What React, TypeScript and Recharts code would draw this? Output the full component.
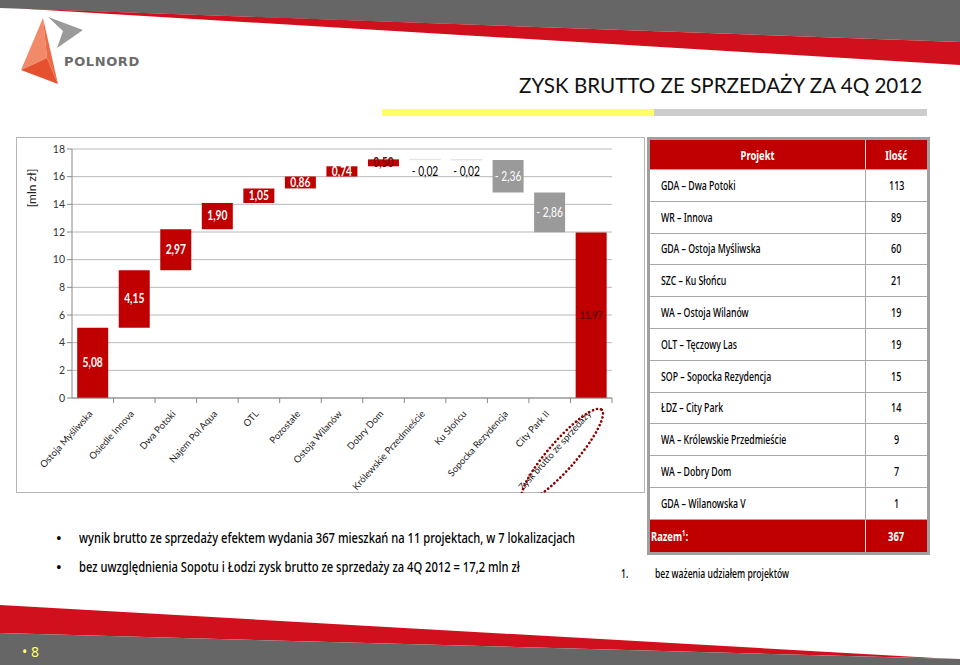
import React from "react";
import {
  BarChart,
  Bar,
  XAxis,
  YAxis,
  CartesianGrid,
  Cell,
  LabelList,
  Label,
} from "recharts";

// waterfall: contributions of projects to the gross profit, mln zł
const categories = [
  "Ostoja Myśliwska",
  "Osiedle Innova",
  "Dwa Potoki",
  "Najem Pol Aqua",
  "OTL",
  "Pozostałe",
  "Ostoja Wilanów",
  "Dobry Dom",
  "Królewskie Przedmieście",
  "Ku Słońcu",
  "Sopocka Rezydencja",
  "City Park II",
  "Zysk brutto ze sprzedaży",
];
const changes = [5.08, 4.15, 2.97, 1.9, 1.05, 0.86, 0.74, 0.5, -0.02, -0.02, -2.36, -2.86];
const totalValue = 11.97;
const yTicks = [0, 2, 4, 6, 8, 10, 12, 14, 16, 18];

// table next to the chart
const tableProjects = [
  "GDA – Dwa Potoki",
  "WR – Innova",
  "GDA – Ostoja Myśliwska",
  "SZC – Ku Słońcu",
  "WA – Ostoja Wilanów",
  "OLT – Tęczowy Las",
  "SOP – Sopocka Rezydencja",
  "ŁDZ – City Park",
  "WA – Królewskie Przedmieście",
  "WA – Dobry Dom",
  "GDA – Wilanowska V",
];
const tableCounts = [113, 89, 60, 21, 19, 19, 15, 14, 9, 7, 1];
const tableTotal = 367;

const bullets = [
  "wynik brutto ze sprzedaży efektem wydania 367 mieszkań na 11 projektach, w 7 lokalizacjach",
  "bez uwzględnienia Sopotu i Łodzi zysk brutto ze sprzedaży za 4Q 2012 = 17,2 mln zł",
];

const RED = "#c00000";
const GREY = "#9a9a9a";
const CHART_FONT = "Lato, 'Open Sans', sans-serif";
const COND_FONT = "'Noto Sans', Roboto, sans-serif";

type Row = { name: string; base: number; delta: number; change: number; isTotal: boolean };

const rows: Row[] = (() => {
  let run = 0;
  const out: Row[] = changes.map((v, i) => {
    const start = run;
    run += v;
    return { name: categories[i], base: Math.min(start, run), delta: Math.abs(v), change: v, isTotal: false };
  });
  out.push({ name: categories[categories.length - 1], base: 0, delta: totalValue, change: totalValue, isTotal: true });
  return out;
})();

const fmt = (v: number) => (v < 0 ? "- " : "") + Math.abs(v).toFixed(2).replace(".", ",");

const barFill = (r: Row) => {
  if (r.change < 0 && Math.abs(r.change) < 0.1) return "#e4e4e4";
  if (r.change < 0) return GREY;
  return RED;
};

const renderLabel = (props: any) => {
  const { x, y, width, height, index } = props;
  const r = rows[index];
  const cx = x + width / 2;
  let cy = y + height / 2;
  let fill = "#fff";
  let weight: any = "bold";
  let size = 12.5;
  if (r.isTotal) {
    fill = "#5a0000";
    size = 11;
  } else if (r.change < 0 && Math.abs(r.change) < 0.1) {
    fill = "#000";
    cy += 12;
    weight = "normal";
  } else if (r.change < 0) weight = "normal";
  else if (r.change < 0.6) fill = "#7a0000";
  return (
    <text
      x={0}
      y={0}
      transform={`translate(${cx} ${cy}) scale(0.82 1)`}
      dy="0.35em"
      textAnchor="middle"
      fill={fill}
      fontSize={size}
      fontWeight={weight}
      fontFamily={CHART_FONT}
    >
      {fmt(r.change)}
    </text>
  );
};

const BAND = 540 / categories.length;

const XTick = (props: any) => {
  const { x, y, payload, index } = props;
  const isLast = index === categories.length - 1;
  return (
    <g>
      <line x1={x + BAND / 2} x2={x + BAND / 2} y1={y - 8} y2={y - 3} stroke="#888" />
      <text
        x={x - 2}
        y={y + 6}
        transform={`rotate(-48 ${x - 2} ${y + 6})`}
        textAnchor="end"
        dy="0.35em"
        fontSize={9.5}
        fill="#222"
        fontFamily={CHART_FONT}
      >
        {payload.value}
      </text>
      {isLast && (
        <ellipse
          cx={x - 29}
          cy={y + 49}
          rx={60}
          ry={14}
          transform={`rotate(-49 ${x - 29} ${y + 49})`}
          fill="none"
          stroke="#8b0000"
          strokeWidth={2.6}
          strokeDasharray="0.1 4"
          strokeLinecap="round"
        />
      )}
    </g>
  );
};

// narrow text helper for the condensed font used on the slide
const Narrow = ({ children, origin = "left", scale = 0.72 }: { children: React.ReactNode; origin?: string; scale?: number }) => (
  <span style={{ display: "inline-block", transform: `scaleX(${scale})`, transformOrigin: `${origin} center`, whiteSpace: "nowrap" }}>
    {children}
  </span>
);

function Decoration() {
  return (
    <svg width={960} height={665} style={{ position: "absolute", left: 0, top: 0 }}>
      <polygon points="0,0 960,0 960,42 0,8" fill="#666666" />
      <polygon points="20,8.5 960,42 960,65" fill="#d0101c" />
      <polygon points="0,605 935,658 960,659 0,633" fill="#d0101c" />
      <polygon points="0,633 960,659 960,665 0,665" fill="#666666" />
      {/* logo */}
      <polygon points="43,18 21,70 47,58" fill="#f08a68" />
      <polygon points="21,70 58,84 47,58" fill="#e5512f" />
      <polygon points="43,18 47,58 58,84" fill="#ec6a45" />
      <polygon points="48,17 83,30 57,48 63,31" fill="#9a9a9a" />
      <text x={64} y={66} fontSize={13} fontWeight="bold" fill="#6b6b6b" fontFamily="'DejaVu Sans', sans-serif" letterSpacing={0.6}>
        POLNORD
      </text>
      {/* title underline */}
      <rect x={382} y={109} width={272} height={7} fill="#ffff66" />
      <rect x={654} y={109} width={273} height={7} fill="#cccccc" />
      <text x={22} y={657} fontSize={14} fill="#ffff66" fontFamily={COND_FONT}>
        • 8
      </text>
    </svg>
  );
}

function ProjectTable() {
  const cell: React.CSSProperties = {
    height: 31.8,
    boxSizing: "border-box",
    display: "flex",
    alignItems: "center",
    borderBottom: "1px solid #a8a8a8",
  };
  return (
    <div
      style={{
        position: "absolute",
        left: 647,
        top: 137,
        width: 283,
        boxSizing: "border-box",
        border: "3px solid #a0a0a0",
        background: "#fff",
        fontFamily: COND_FONT,
        fontSize: 12.5,
        fontWeight: 500,
        color: "#000",
      }}
    >
      <div style={{ display: "flex", background: RED, color: "#fff", fontWeight: "bold", fontSize: 13 }}>
        <div style={{ ...cell, height: 30, width: 216, justifyContent: "center", borderRight: "1px solid #ddd" }}>
          <Narrow origin="center">Projekt</Narrow>
        </div>
        <div style={{ ...cell, height: 30, flex: 1, justifyContent: "center" }}>
          <Narrow origin="center">Ilość</Narrow>
        </div>
      </div>
      {tableProjects.map((p, i) => (
        <div key={p} style={{ display: "flex" }}>
          <div style={{ ...cell, width: 216, paddingLeft: 11, borderRight: "1px solid #a8a8a8" }}>
            <Narrow scale={0.7}>{p}</Narrow>
          </div>
          <div style={{ ...cell, flex: 1, justifyContent: "center" }}>
            <Narrow origin="center">{tableCounts[i]}</Narrow>
          </div>
        </div>
      ))}
      <div style={{ display: "flex", background: RED, color: "#fff", fontWeight: "bold", fontSize: 13 }}>
        <div style={{ ...cell, width: 216, paddingLeft: 1, borderBottom: "none", borderRight: "1px solid #ddd" }}>
          <Narrow>
            Razem<sup style={{ fontSize: 8 }}>1</sup>:
          </Narrow>
        </div>
        <div style={{ ...cell, flex: 1, justifyContent: "center", borderBottom: "none" }}>
          <Narrow origin="center">{tableTotal}</Narrow>
        </div>
      </div>
    </div>
  );
}

export default function App() {
  return (
    <div style={{ position: "absolute", left: 0, top: 0, width: 960, height: 665, background: "#fff", overflow: "hidden" }}>
      <Decoration />
      <div
        style={{
          position: "absolute",
          left: 519,
          top: 73,
          fontFamily: CHART_FONT,
          fontSize: 20.6,
          color: "#111",
          whiteSpace: "nowrap",
        }}
      >
        ZYSK BRUTTO ZE SPRZEDAŻY ZA 4Q 2012
      </div>
      <div
        style={{
          position: "absolute",
          left: 16,
          top: 137,
          width: 629,
          height: 356,
          boxSizing: "border-box",
          border: "1px solid #b5b5b5",
        }}
      />
      <div style={{ position: "absolute", left: 16, top: 137 }}>
        <BarChart width={629} height={356} data={rows} margin={{ top: 12, right: 33, left: 0, bottom: 0 }} barCategoryGap="12.5%">
          <CartesianGrid vertical={false} stroke="#b8b8b8" />
          <XAxis dataKey="name" interval={0} height={95} tickLine={false} axisLine={{ stroke: "#888" }} tick={<XTick />} />
          <YAxis
            domain={[0, 18]}
            ticks={yTicks}
            width={56}
            tickSize={5}
            tickLine={{ stroke: "#888" }}
            axisLine={{ stroke: "#888" }}
            tick={{ fontSize: 10.5, fill: "#333", fontFamily: CHART_FONT }}
          >
            <Label
              content={(p: any) => {
                const vb = p.viewBox;
                const lx = vb.x + 16;
                const ly = vb.y + 39;
                return (
                  <text x={lx} y={ly} transform={`rotate(-90 ${lx} ${ly})`} textAnchor="middle" dy="0.35em" fontSize={12} fill="#222" fontFamily={CHART_FONT}>
                    [mln zł]
                  </text>
                );
              }}
            />
          </YAxis>
          <Bar dataKey="base" stackId="w" fill="transparent" isAnimationActive={false} />
          <Bar dataKey="delta" stackId="w" isAnimationActive={false}>
            {rows.map((r, i) => (
              <Cell key={i} fill={barFill(r)} stroke={barFill(r)} strokeWidth={Math.abs(r.change) < 0.1 ? 1 : 0} />
            ))}
            <LabelList dataKey="delta" content={renderLabel} />
          </Bar>
        </BarChart>
      </div>
      <ProjectTable />
      <div style={{ position: "absolute", left: 0, top: 0, fontFamily: COND_FONT, fontSize: 15, fontWeight: 500, color: "#000" }}>
        {bullets.map((b, i) => (
          <div key={i} style={{ position: "absolute", top: 527 + i * 29, left: 56, whiteSpace: "nowrap" }}>
            <span style={{ position: "absolute", left: 0 }}>•</span>
            <span style={{ position: "absolute", left: 23 }}>
              <Narrow scale={0.745}>{b}</Narrow>
            </span>
          </div>
        ))}
        <div style={{ position: "absolute", top: 565, left: 621, fontSize: 12, whiteSpace: "nowrap" }}>
          <Narrow>1.</Narrow>
        </div>
        <div style={{ position: "absolute", top: 565, left: 655, fontSize: 12, whiteSpace: "nowrap" }}>
          <Narrow>bez ważenia udziałem projektów</Narrow>
        </div>
      </div>
    </div>
  );
}
